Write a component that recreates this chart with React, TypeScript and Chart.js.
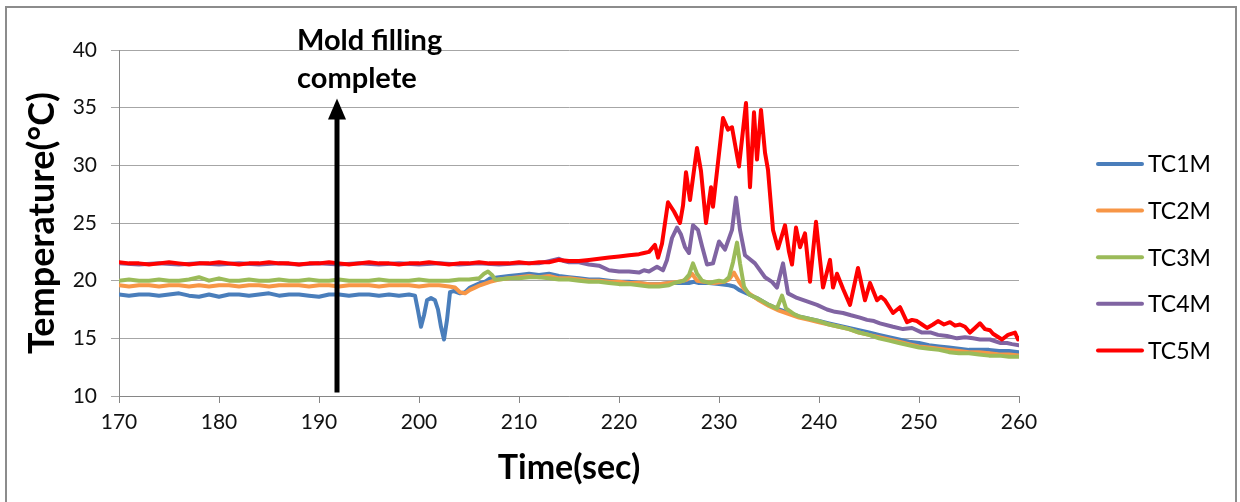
import { useEffect, useRef } from "react";
import { Chart, registerables } from "chart.js";

Chart.register(...registerables);

type Pt = [number, number];

// Axis ticks
const timeTicks = [170, 180, 190, 200, 210, 220, 230, 240, 250, 260];
const tempTicks = [10, 15, 20, 25, 30, 35, 40];

// Series labels and colours
const seriesNames = ["TC1M", "TC2M", "TC3M", "TC4M", "TC5M"];
const seriesColors = ["#4A7EBB", "#F79646", "#9BBB59", "#8064A2", "#FF0000"];

// [time (sec), temperature (°C)]
const tc1m: Pt[] = [
  [170, 18.8], [171, 18.7], [172, 18.8], [173, 18.8], [174, 18.7], [175, 18.8], [176, 18.9], [177, 18.7],
  [178, 18.6], [179, 18.8], [180, 18.6], [181, 18.8], [182, 18.8], [183, 18.7], [184, 18.8], [185, 18.9],
  [186, 18.7], [187, 18.8], [188, 18.8], [189, 18.7], [190, 18.6], [191, 18.8], [192, 18.8], [193, 18.7],
  [194, 18.8], [195, 18.8], [196, 18.7], [197, 18.8], [198, 18.7], [199, 18.8], [199.6, 18.7], [199.9, 17.4],
  [200.2, 16.0], [200.5, 17.0], [200.8, 18.3], [201.2, 18.5], [201.6, 18.3], [201.9, 17.5], [202.2, 16.0],
  [202.5, 14.9], [202.8, 16.6], [203.1, 19.0], [203.5, 19.1], [204.1, 18.9], [204.6, 19.0], [205.1, 19.4],
  [205.6, 19.6], [206.1, 19.8], [206.6, 19.9], [207.1, 20.2], [208, 20.3], [209, 20.4], [210, 20.5],
  [211, 20.6], [212, 20.5], [213, 20.6], [214, 20.4], [215, 20.3], [216, 20.2], [217, 20.1], [218, 20.1],
  [219, 20.0], [220, 19.9], [221, 19.9], [222, 19.8], [223, 19.7], [224, 19.7], [225, 19.8], [226, 19.8],
  [227, 19.8], [227.5, 19.9], [228, 19.8], [229, 19.8], [230, 19.7], [231, 19.6], [231.5, 19.5], [232, 19.2],
  [233, 18.8], [234, 18.4], [235, 17.9], [236, 17.5], [237, 17.2], [238, 16.9], [239, 16.7], [240, 16.5],
  [241, 16.3], [242, 16.1], [243, 15.9], [244, 15.7], [245, 15.5], [246, 15.3], [247, 15.1], [248, 14.9],
  [249, 14.7], [250, 14.6], [251, 14.4], [252, 14.3], [253, 14.2], [254, 14.1], [255, 14.0], [256, 14.0],
  [257, 14.0], [258, 13.9], [259, 13.9], [260, 13.8],
];

const tc2m: Pt[] = [
  [170, 19.6], [171, 19.5], [172, 19.6], [173, 19.6], [174, 19.5], [175, 19.6], [176, 19.6], [177, 19.5],
  [178, 19.6], [179, 19.5], [180, 19.6], [181, 19.6], [182, 19.5], [183, 19.6], [184, 19.6], [185, 19.5],
  [186, 19.6], [187, 19.6], [188, 19.6], [189, 19.5], [190, 19.6], [191, 19.6], [192, 19.5], [193, 19.6],
  [194, 19.6], [195, 19.6], [196, 19.5], [197, 19.6], [198, 19.6], [199, 19.6], [200, 19.5], [201, 19.6],
  [202, 19.6], [203, 19.5], [203.6, 19.4], [204.1, 19.0], [204.6, 18.9], [205.1, 19.2], [205.6, 19.4],
  [206.1, 19.6], [207.1, 19.9], [208, 20.1], [209, 20.2], [210, 20.3], [211, 20.4], [212, 20.3], [213, 20.4],
  [214, 20.2], [215, 20.2], [216, 20.1], [217, 20.0], [218, 20.0], [219, 19.9], [220, 19.9], [221, 19.8],
  [222, 19.8], [223, 19.7], [224, 19.7], [225, 19.8], [226, 19.9], [226.8, 20.1], [227.3, 20.6], [227.8, 20.0],
  [228.5, 19.9], [229.5, 19.8], [230.5, 19.9], [231, 20.1], [231.5, 20.7], [232, 19.9], [232.5, 19.3],
  [233, 18.9], [234, 18.3], [235, 17.8], [236, 17.4], [237, 17.1], [238, 16.8], [239, 16.6], [240, 16.4],
  [241, 16.2], [242, 16.0], [243, 15.8], [244, 15.5], [245, 15.3], [246, 15.1], [247, 14.9], [248, 14.7],
  [249, 14.5], [250, 14.3], [251, 14.2], [252, 14.1], [253, 14.0], [254, 13.9], [255, 13.8], [256, 13.8],
  [257, 13.7], [258, 13.6], [259, 13.6], [260, 13.5],
];

const tc3m: Pt[] = [
  [170, 20.0], [171, 20.1], [172, 20.0], [173, 20.0], [174, 20.1], [175, 20.0], [176, 20.0], [177, 20.1],
  [178, 20.3], [179, 20.0], [180, 20.2], [181, 20.0], [182, 20.0], [183, 20.1], [184, 20.0], [185, 20.0],
  [186, 20.1], [187, 20.0], [188, 20.0], [189, 20.1], [190, 20.0], [191, 20.0], [192, 20.1], [193, 20.0],
  [194, 20.0], [195, 20.0], [196, 20.1], [197, 20.0], [198, 20.0], [199, 20.0], [200, 20.1], [201, 20.0],
  [202, 20.0], [203, 20.0], [204, 20.1], [205, 20.1], [206, 20.2], [206.5, 20.6], [206.9, 20.8], [207.3, 20.5],
  [207.6, 20.1], [208, 20.1], [209, 20.2], [210, 20.2], [211, 20.3], [212, 20.3], [213, 20.2], [214, 20.1],
  [215, 20.1], [216, 20.0], [217, 19.9], [218, 19.9], [219, 19.8], [220, 19.7], [221, 19.7], [222, 19.6],
  [223, 19.5], [224, 19.5], [225, 19.6], [225.5, 19.8], [226, 19.9], [226.5, 20.0], [227, 20.5], [227.4, 21.5],
  [227.8, 20.6], [228.3, 20.0], [229, 19.8], [229.5, 19.9], [230, 20.0], [230.5, 19.9], [231, 20.3],
  [231.4, 21.6], [231.8, 23.3], [232.1, 21.5], [232.5, 19.5], [233, 18.8], [234, 18.4], [235, 17.9],
  [235.8, 17.6], [236.3, 18.7], [236.7, 17.6], [237.5, 17.1], [238, 16.9], [239, 16.7], [240, 16.5],
  [241, 16.2], [242, 16.0], [243, 15.8], [244, 15.5], [245, 15.3], [246, 15.0], [247, 14.8], [248, 14.6],
  [249, 14.4], [250, 14.2], [251, 14.1], [252, 14.0], [253, 13.8], [254, 13.7], [255, 13.7], [256, 13.6],
  [257, 13.5], [258, 13.5], [259, 13.4], [260, 13.4],
];

const tc4m: Pt[] = [
  [170, 21.5], [172, 21.4], [174, 21.5], [176, 21.4], [178, 21.5], [180, 21.4], [182, 21.5], [184, 21.4],
  [186, 21.5], [188, 21.4], [190, 21.5], [192, 21.4], [194, 21.5], [196, 21.4], [198, 21.5], [200, 21.4],
  [202, 21.5], [204, 21.4], [206, 21.5], [208, 21.4], [210, 21.5], [212, 21.5], [213.5, 21.8], [214, 21.9],
  [214.5, 21.7], [215, 21.6], [216, 21.6], [217, 21.4], [218, 21.3], [219, 20.9], [220, 20.8], [221, 20.8],
  [222, 20.7], [222.5, 20.9], [223, 20.8], [223.8, 21.2], [224.4, 20.9], [224.8, 21.8], [225.3, 23.7],
  [225.8, 24.6], [226.2, 24.0], [226.6, 22.9], [227, 22.4], [227.4, 24.8], [227.9, 24.4], [228.3, 23.0],
  [228.8, 21.4], [229.4, 21.5], [230, 23.4], [230.6, 22.7], [231.3, 24.4], [231.7, 27.2], [232.1, 24.4],
  [232.6, 22.2], [233.6, 21.5], [234.6, 20.3], [235.3, 19.9], [235.8, 19.4], [236.4, 21.5], [236.9, 18.9],
  [237.8, 18.5], [238.8, 18.2], [239.8, 17.9], [240.8, 17.5], [241.6, 17.3], [242.4, 17.2], [243.2, 17.0],
  [244.1, 16.8], [244.8, 16.6], [245.5, 16.5], [246.1, 16.3], [247.4, 16.0], [248.4, 15.8], [249.3, 15.9],
  [250.3, 15.5], [251.2, 15.5], [251.9, 15.3], [252.8, 15.2], [253.8, 15.0], [254.6, 15.1], [255.4, 15.0],
  [256.1, 14.9], [257.1, 14.9], [258.1, 14.6], [258.8, 14.6], [259.3, 14.5], [260, 14.4],
];

const tc5m: Pt[] = [
  [170, 21.6], [171, 21.5], [172, 21.5], [173, 21.4], [174, 21.5], [175, 21.6], [176, 21.5], [177, 21.4],
  [178, 21.5], [179, 21.5], [180, 21.6], [181, 21.5], [182, 21.4], [183, 21.5], [184, 21.5], [185, 21.6],
  [186, 21.5], [187, 21.5], [188, 21.4], [189, 21.5], [190, 21.5], [191, 21.6], [192, 21.5], [193, 21.4],
  [194, 21.5], [195, 21.6], [196, 21.5], [197, 21.5], [198, 21.4], [199, 21.5], [200, 21.5], [201, 21.6],
  [202, 21.5], [203, 21.4], [204, 21.5], [205, 21.5], [206, 21.6], [207, 21.5], [208, 21.5], [209, 21.5],
  [210, 21.6], [211, 21.5], [212, 21.6], [213, 21.6], [214, 21.8], [215, 21.7], [216, 21.7], [217, 21.8],
  [218, 21.9], [219, 22.0], [220, 22.1], [221, 22.2], [222, 22.3], [222.5, 22.4], [223, 22.5], [223.6, 23.1],
  [223.9, 22.0], [224.3, 23.2], [224.9, 26.8], [225.5, 26.0], [226.1, 25.0], [226.4, 26.5], [226.7, 29.4],
  [227.1, 27.0], [227.8, 31.5], [228.2, 29.5], [228.7, 25.0], [229.2, 28.1], [229.4, 26.4], [230.4, 34.1],
  [230.9, 33.1], [231.3, 33.3], [232.0, 29.9], [232.7, 35.4], [233.1, 28.1], [233.5, 34.6], [233.8, 30.5],
  [234.2, 34.8], [234.6, 31.1], [234.9, 29.6], [235.4, 24.4], [235.9, 22.8], [236.6, 24.8], [237.0, 22.5],
  [237.3, 21.4], [237.7, 24.6], [238.1, 22.9], [238.6, 24.1], [239.1, 19.9], [239.7, 25.1], [240.4, 19.4],
  [241.1, 21.8], [241.4, 19.4], [241.8, 20.6], [242.4, 19.3], [243.1, 17.9], [243.9, 21.1], [244.6, 18.3],
  [245.1, 19.8], [245.8, 18.3], [246.2, 18.6], [246.6, 18.3], [247.4, 17.2], [248.1, 17.7], [248.8, 16.4],
  [249.3, 16.6], [249.8, 16.5], [250.3, 16.2], [250.8, 15.9], [251.4, 16.2], [251.9, 16.5], [252.5, 16.2],
  [253.1, 16.4], [253.6, 16.1], [254.1, 16.2], [254.6, 16.0], [255.1, 15.5], [255.6, 15.9], [256.1, 16.3],
  [256.6, 15.8], [257.1, 15.7], [257.4, 15.4], [258.3, 14.9], [258.9, 15.3], [259.6, 15.5], [259.9, 14.9],
  [260, 15.0],
];

const allSeries = [tc1m, tc2m, tc3m, tc4m, tc5m];

// Annotation: moment the mold finished filling
const fillingTime = 191.8;
const arrowBase = 10.3;
const arrowTip = 35.8;
const noteLines = ["Mold filling", "complete"];

const FONT = "Lato";

// Draws the filling arrow, its note, and the legend on the right
const overlay = {
  id: "overlay",
  afterDraw(chart: any) {
    const { ctx, scales } = chart;
    const x = scales.x.getPixelForValue(fillingTime);
    const yb = scales.y.getPixelForValue(arrowBase);
    const yt = scales.y.getPixelForValue(arrowTip);
    ctx.save();
    ctx.fillStyle = "#000";
    ctx.strokeStyle = "#000";
    ctx.lineWidth = 5;
    ctx.beginPath();
    ctx.moveTo(x, yb);
    ctx.lineTo(x, yt + 14);
    ctx.stroke();
    ctx.beginPath();
    ctx.moveTo(x, yt);
    ctx.lineTo(x - 9, yt + 21);
    ctx.lineTo(x + 9, yt + 21);
    ctx.closePath();
    ctx.fill();

    ctx.font = `bold 29px ${FONT}`;
    ctx.textAlign = "left";
    ctx.textBaseline = "alphabetic";
    ctx.fillText(noteLines[0], x - 40, 50);
    ctx.fillText(noteLines[1], x - 40, 88);

    ctx.font = `23px ${FONT}`;
    ctx.textBaseline = "middle";
    ctx.lineCap = "round";
    seriesNames.forEach((name, i) => {
      const y = 164 + i * 46.6;
      ctx.strokeStyle = seriesColors[i];
      ctx.lineWidth = 4;
      ctx.beginPath();
      ctx.moveTo(1098, y);
      ctx.lineTo(1142, y);
      ctx.stroke();
      ctx.fillStyle = "#000";
      ctx.fillText(name, 1148, y + 1);
    });
    ctx.restore();
  },
};

export default function App() {
  const canvasRef = useRef<HTMLCanvasElement | null>(null);

  useEffect(() => {
    const canvas = canvasRef.current;
    if (!canvas) return;
    const chart = new Chart(canvas, {
      type: "line",
      data: {
        datasets: allSeries.map((s, i) => ({
          label: seriesNames[i],
          data: s.map(([x, y]) => ({ x, y })),
          borderColor: seriesColors[i],
          backgroundColor: seriesColors[i],
          borderWidth: 4,
          pointRadius: 0,
          tension: 0,
          order: seriesNames.length - i,
          borderJoinStyle: "round",
          borderCapStyle: "round",
        })),
      },
      options: {
        responsive: false,
        animation: false,
        devicePixelRatio: 1,
        layout: { padding: { left: 0, top: 50, right: 221, bottom: 0 } },
        plugins: { legend: { display: false }, tooltip: { enabled: false } },
        scales: {
          x: {
            type: "linear",
            min: timeTicks[0],
            max: timeTicks[timeTicks.length - 1],
            afterBuildTicks: (s: any) => {
              s.ticks = timeTicks.map((v) => ({ value: v }));
            },
            afterFit: (s: any) => {
              s.height = 106;
            },
            grid: { drawOnChartArea: false, drawTicks: true, tickLength: 7, color: "#868686" },
            border: { color: "#868686", width: 1 },
            ticks: { font: { family: FONT, size: 21 }, color: "#111", padding: 7, maxRotation: 0 },
            title: {
              display: true,
              text: "Time(sec)",
              color: "#000",
              font: { family: FONT, size: 34, weight: "bold" },
              padding: { top: 0, bottom: 14 },
            },
          },
          y: {
            type: "linear",
            min: tempTicks[0],
            max: tempTicks[tempTicks.length - 1],
            afterBuildTicks: (s: any) => {
              s.ticks = tempTicks.map((v) => ({ value: v }));
            },
            afterFit: (s: any) => {
              s.width = 119;
            },
            grid: { color: "#a6a6a6", tickLength: 8, drawTicks: true },
            border: { color: "#868686", width: 1 },
            ticks: { font: { family: FONT, size: 21 }, color: "#111", padding: 14 },
            title: {
              display: true,
              text: "Temperature(°C)",
              color: "#000",
              font: { family: FONT, size: 36, weight: "bold" },
              padding: { top: 21, bottom: 0 },
            },
          },
        },
      },
      plugins: [overlay],
    });
    return () => chart.destroy();
  }, []);

  return (
    <div
      style={{
        position: "fixed",
        left: 0,
        top: 0,
        width: 1240,
        height: 502,
        background: "#fff",
        overflow: "hidden",
      }}
    >
      <div
        style={{
          position: "absolute",
          left: 5,
          top: 6,
          width: 1232,
          height: 520,
          boxSizing: "border-box",
          border: "2px solid #8c8c8c",
        }}
      />
      <canvas
        ref={canvasRef}
        width={1240}
        height={502}
        style={{ position: "absolute", left: 0, top: 0, display: "block" }}
      />
    </div>
  );
}
